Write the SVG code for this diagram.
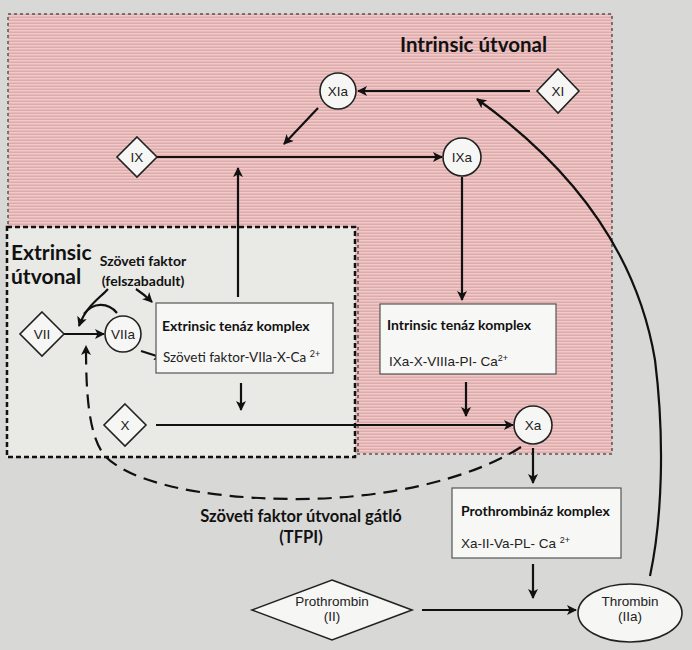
<svg xmlns="http://www.w3.org/2000/svg" width="692" height="650" viewBox="0 0 692 650">
<defs>
<pattern id="stripes" width="6" height="3" patternUnits="userSpaceOnUse">
<rect width="6" height="3" fill="#efcac9"/>
<rect y="1.5" width="6" height="1.5" fill="#dfaaab"/>
</pattern>
<marker id="ah" viewBox="0 0 10 10" refX="9" refY="5" markerWidth="11" markerHeight="10" markerUnits="userSpaceOnUse" orient="auto">
<path d="M0,0 L10,5 L0,10 L2.5,5 Z" fill="#111"/>
</marker>
</defs>
<style>
.bold{font-family:Lato,"Open Sans","Liberation Sans",sans-serif;font-weight:bold;fill:#111}
.lbl{font-family:"Liberation Sans",Arial,sans-serif;font-size:13.5px;fill:#222;text-anchor:middle}
.node{fill:#f6f6f4;stroke:#222;stroke-width:1.6}
.box{fill:#f7f7f5;stroke:#555;stroke-width:1.2}
.con{fill:none;stroke:#111;stroke-width:2.2;marker-end:url(#ah)}
.txt{font-family:Lato,"Open Sans","Liberation Sans",sans-serif;font-size:13.5px;fill:#222}
.arl{font-family:"Liberation Sans",Arial,sans-serif;font-size:13.5px;fill:#222}
.sup{font-size:9px}
</style>
<rect width="692" height="650" fill="#d8d8d6"/>
<g id="intrinsic-region">
<rect x="8" y="14" width="604" height="440" fill="url(#stripes)" stroke="#555" stroke-width="1.5" stroke-dasharray="3 3"/>
<text class="bold" x="400" y="52" font-size="20.5">Intrinsic útvonal</text>
</g>
<g id="extrinsic-region">
<line x1="358" y1="227" x2="358" y2="454" stroke="#555" stroke-width="1.5" stroke-dasharray="3 3"/>
<rect x="7" y="227" width="348" height="230" fill="#e9e9e6" stroke="#111" stroke-width="2.5" stroke-dasharray="5 3"/>
<text class="bold" x="11" y="260" font-size="21">Extrinsic</text>
<text class="bold" x="11" y="284" font-size="21">útvonal</text>
<text class="bold" x="143" y="266" font-size="14" text-anchor="middle">Szöveti faktor</text>
<text class="bold" x="143" y="286" font-size="14" text-anchor="middle">(felszabadult)</text>
</g>
<g id="connectors">
<line class="con" x1="530" y1="91" x2="358" y2="91"/>
<line class="con" x1="318" y1="108" x2="284" y2="144"/>
<line class="con" x1="157" y1="157" x2="442" y2="157"/>
<line class="con" x1="238" y1="297" x2="238" y2="168"/>
<line class="con" x1="462" y1="177" x2="462" y2="300"/>
<line class="con" x1="466" y1="382" x2="466" y2="416"/>
<line class="con" x1="156" y1="425" x2="513" y2="425"/>
<line class="con" x1="241" y1="383" x2="241" y2="410"/>
<line class="con" x1="64" y1="334" x2="104" y2="334"/>
<line class="con" x1="141" y1="351" x2="163" y2="358"/>
<path class="con" d="M108 289 C100 298 86 306 79 326"/>
<path d="M117 313 C108 302 93 302 84 314" fill="none" stroke="#111" stroke-width="2.2"/>
<path class="con" d="M136 289 C142 293 147 297 152 302"/>
<path class="con" d="M521 447 C470 480 380 500 290 499 C200 498 130 482 105 456 C88 436 86 390 86 346" stroke-width="2.6" stroke-dasharray="14 8"/>
<line class="con" x1="533" y1="448" x2="533" y2="483"/>
<line class="con" x1="533" y1="564" x2="533" y2="598"/>
<line class="con" x1="422" y1="610" x2="576" y2="610"/>
<path class="con" d="M650 576 C662 520 665 440 655 360 C640 270 590 180 477 99"/>
</g>
<g id="XI"><polygon class="node" points="558,69 579,91 558,113 537,91"/><text class="lbl" x="558" y="96">XI</text></g>
<g id="XIa"><circle class="node" cx="338" cy="91" r="18"/><text class="lbl" x="338" y="96">XIa</text></g>
<g id="IX"><polygon class="node" points="137,137 157,157 137,177 117,157"/><text class="lbl" x="137" y="162">IX</text></g>
<g id="IXa"><circle class="node" cx="462" cy="157" r="19"/><text class="lbl" x="462" y="162">IXa</text></g>
<g id="VII"><polygon class="node" points="42,312 64,334 42,356 20,334"/><text class="lbl" x="42" y="339">VII</text></g>
<g id="VIIa"><circle class="node" cx="123" cy="334" r="18"/><text class="lbl" x="123" y="339">VIIa</text></g>
<g id="X"><polygon class="node" points="125,404 146,425 125,446 104,425"/><text class="lbl" x="125" y="430">X</text></g>
<g id="Xa"><circle class="node" cx="533" cy="425" r="19"/><text class="lbl" x="533" y="430">Xa</text></g>
<g id="extrinsic-tenase">
<rect class="box" x="156" y="303" width="177" height="70"/>
<text class="bold" x="162" y="331" font-size="14">Extrinsic tenáz komplex</text>
<text class="txt" x="163" y="362">Szöveti faktor-VIIa-X-Ca <tspan class="sup" dy="-5">2+</tspan></text>
</g>
<g id="intrinsic-tenase">
<rect class="box" x="380" y="304" width="176" height="70"/>
<text class="bold" x="387" y="330" font-size="14">Intrinsic tenáz komplex</text>
<text class="arl" x="389" y="366">IXa-X-VIIIa-PI- Ca<tspan class="sup" dy="-5">2+</tspan></text>
</g>
<g id="prothrombinase">
<rect class="box" x="452" y="488" width="169" height="70"/>
<text class="bold" x="461" y="516" font-size="14">Prothrombináz komplex</text>
<text class="arl" x="461" y="548">Xa-II-Va-PL- Ca <tspan class="sup" dy="-5">2+</tspan></text>
</g>
<g id="TFPI-label">
<text class="bold" x="301" y="522" font-size="16.5" text-anchor="middle">Szöveti faktor útvonal gátló</text>
<text class="bold" x="301" y="543" font-size="16.5" text-anchor="middle">(TFPI)</text>
</g>
<g id="prothrombin"><polygon class="node" points="332,580 412,610 332,640 252,610"/><text class="lbl" x="332" y="606">Prothrombin</text><text class="lbl" x="332" y="621">(II)</text></g>
<g id="thrombin"><ellipse class="node" cx="630" cy="613" rx="52" ry="29"/><text class="lbl" x="630" y="606">Thrombin</text><text class="lbl" x="630" y="621">(IIa)</text></g>
</svg>
